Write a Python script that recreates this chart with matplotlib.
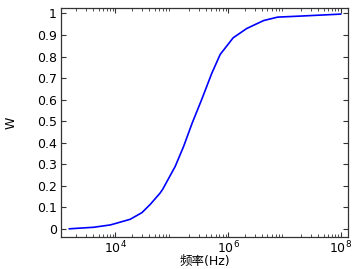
import numpy as np
from matplotlib import pyplot as plt
from matplotlib.ticker import FuncFormatter, LogLocator

plt.rcParams['font.family'] = ['DejaVu Sans', 'Noto Sans CJK SC']

# 读图得到的数据 (log10 频率, W)
log_freq = [3.18, 3.61, 3.91, 4.26, 4.47, 4.62, 4.79, 4.84, 5.06, 5.21, 5.36,
            5.53, 5.71, 5.86, 6.09, 6.33, 6.63, 6.88, 7.3, 8.0]
w_vals = [0.001, 0.008, 0.019, 0.045, 0.076, 0.115, 0.166, 0.185, 0.29, 0.383,
          0.49, 0.60, 0.722, 0.81, 0.887, 0.93, 0.967, 0.983, 0.988, 0.997]
freq = [10 ** v for v in log_freq]

fig = plt.figure(figsize=(3.54, 2.69), dpi=100)
ax = fig.add_axes([0.172, 0.119, 0.811, 0.851])
ax.plot(freq, w_vals, color='#0000ff', lw=1.2)

ax.set_xscale('log')
ax.set_xlim(10 ** 3.03, 10 ** 8.13)
ax.set_ylim(-0.037, 1.025)
ax.set_xticks([1e4, 1e6, 1e8])
ax.xaxis.set_minor_locator(LogLocator(base=10, subs=np.arange(2, 10), numticks=20))
ax.set_yticks(np.arange(0, 1.01, 0.1))
ax.yaxis.set_major_formatter(FuncFormatter(lambda v, p: '%g' % round(v, 1)))

ax.tick_params(which='both', direction='in', top=True, right=True, labelsize=9,
               color='#333333')
ax.tick_params(which='major', length=3.5, width=0.8, pad=3)
ax.tick_params(axis='x', which='major', pad=2)
ax.tick_params(which='minor', length=2.5, width=0.6)
for s in ax.spines.values():
    s.set_color('#333333')
    s.set_linewidth(0.9)

ax.set_xlabel('频率(Hz)', fontsize=9)
ax.xaxis.set_label_coords(0.5, -0.078)
ax.set_ylabel('W', fontsize=9, labelpad=14)

fig.savefig('out.png', dpi=100)
